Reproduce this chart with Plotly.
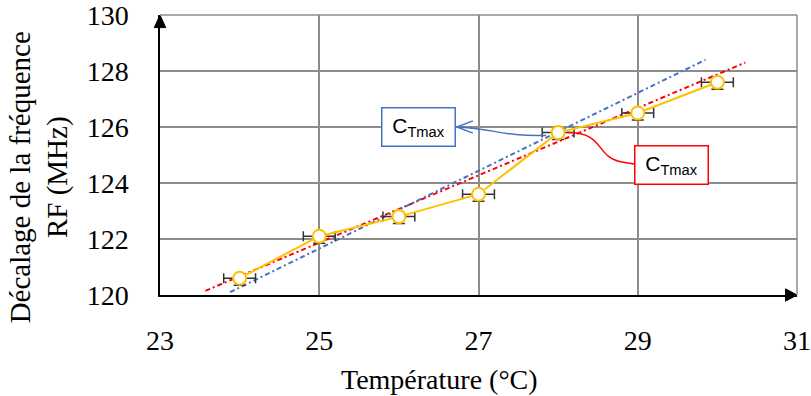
import plotly.graph_objects as go

temperature = [24, 25, 26, 27, 28, 29, 30]
rf_shift = [120.6, 122.1, 122.8, 123.6, 125.8, 126.5, 127.6]
temp_err = [0.2, 0.2, 0.2, 0.2, 0.2, 0.2, 0.2]
rf_err_minus = [0.25, 0.25, 0.25, 0.25, 0.25, 0.25, 0.25]
rf_err_plus = [0, 0, 0, 0, 0, 0, 0]

red_fit_x = [23.57, 30.35]
red_fit_y = [120.15, 128.3]
blue_fit_x = [23.88, 29.85]
blue_fit_y = [120.1, 128.4]

x_ticks = [23, 25, 27, 29, 31]
y_ticks = [120, 122, 124, 126, 128, 130]

ORANGE = "#FFC000"
RED = "#FF0000"
BLUE = "#4472C4"
GRID = "#8C8C8C"
SERIF = "Liberation Serif, Times New Roman, serif"
SANS = "Liberation Sans, Arial, sans-serif"

fig = go.Figure()

fig.add_trace(go.Scatter(
    x=red_fit_x, y=red_fit_y, mode="lines",
    line=dict(color=RED, width=2, dash="5px,3px,2px,3px"),
    hoverinfo="skip", showlegend=False))
fig.add_trace(go.Scatter(
    x=blue_fit_x, y=blue_fit_y, mode="lines",
    line=dict(color=BLUE, width=2, dash="5px,3px,2px,3px"),
    hoverinfo="skip", showlegend=False))

fig.add_trace(go.Scatter(
    x=temperature, y=rf_shift, mode="lines+markers",
    line=dict(color=ORANGE, width=2),
    marker=dict(symbol="circle", size=13, color="white",
                line=dict(color=ORANGE, width=2)),
    error_x=dict(type="data", array=temp_err, color="#333333",
                 thickness=1.5, width=5),
    error_y=dict(type="data", symmetric=False, array=rf_err_plus,
                 arrayminus=rf_err_minus, color="#333333",
                 thickness=1.5, width=6),
    showlegend=False))

shapes = []
shapes.append(dict(type="path", xref="x", yref="y",
                   path="M 27.85,125.7 C 27.3,125.65 27.2,125.95 26.73,126.0",
                   line=dict(color=BLUE, width=1.5)))
shapes.append(dict(type="path", xref="x", yref="y",
                   path="M 26.93,126.22 L 26.73,126.0 L 26.93,125.78",
                   line=dict(color=BLUE, width=1.5)))
shapes.append(dict(type="path", xref="x", yref="y",
                   path="M 28.12,125.8 C 28.6,125.8 28.45,124.95 28.8,124.75 C 29.0,124.63 29.1,124.68 29.2,124.68",
                   line=dict(color=RED, width=1.5)))
shapes.append(dict(type="path", xref="x", yref="y",
                   path="M 29.0,124.98 L 29.2,124.68 L 29.0,124.43",
                   line=dict(color=RED, width=1.5)))

shapes.append(dict(type="path", xref="paper", yref="paper",
                   path="M 0,1.0 L -0.009,0.955 L 0.009,0.955 Z",
                   fillcolor="black", line=dict(color="black", width=1)))
shapes.append(dict(type="path", xref="paper", yref="paper",
                   path="M 1.0,0 L 0.982,0.022 L 0.982,-0.022 Z",
                   fillcolor="black", line=dict(color="black", width=1)))
shapes.append(dict(type="line", xref="paper", yref="paper", x0=0, x1=1, y0=1, y1=1,
                   line=dict(color=GRID, width=1.5)))
shapes.append(dict(type="line", xref="paper", yref="paper", x0=1, x1=1, y0=0, y1=1,
                   line=dict(color=GRID, width=1.5)))

annotations = [
    dict(text="C<sub>Tmax</sub>", x=26.25, y=126.0, xref="x", yref="y",
         showarrow=False, font=dict(family=SANS, size=21, color="black"),
         bordercolor=BLUE, borderwidth=1.5, bgcolor="white",
         width=72, height=37, borderpad=0),
    dict(text="C<sub>Tmax</sub>", x=29.43, y=124.65, xref="x", yref="y",
         showarrow=False, font=dict(family=SANS, size=21, color="black"),
         bordercolor=RED, borderwidth=1.5, bgcolor="white",
         width=72, height=37, borderpad=0),
    dict(text="Décalage de la fréquence<br>RF (MHz)", textangle=-90,
         x=-0.19, y=0.42, xref="paper", yref="paper",
         xanchor="center", yanchor="middle", showarrow=False,
         font=dict(family=SERIF, size=29, color="black")),
    dict(text="Température (°C)", x=0.438, y=-0.30, xref="paper", yref="paper",
         xanchor="center", yanchor="middle", showarrow=False,
         font=dict(family=SERIF, size=28, color="black")),
]

fig.update_layout(
    width=811, height=396,
    margin=dict(l=160, r=14, t=15, b=101, autoexpand=False),
    paper_bgcolor="white", plot_bgcolor="white",
    shapes=shapes, annotations=annotations,
    xaxis=dict(range=[23, 31], tickvals=x_ticks, showgrid=True,
               gridcolor=GRID, gridwidth=1.5, zeroline=False,
               showline=True, linecolor="black", linewidth=1.5,
               ticks="outside", ticklen=0, ticklabelstandoff=20,
               automargin=False, ticklabeloverflow="allow",
               tickfont=dict(family=SERIF, size=28, color="black")),
    yaxis=dict(range=[120, 130], tickvals=y_ticks, showgrid=True,
               gridcolor=GRID, gridwidth=1.5, zeroline=False,
               showline=True, linecolor="black", linewidth=1.5,
               ticks="outside", ticklen=0, ticklabelstandoff=24,
               automargin=False, ticklabeloverflow="allow",
               tickfont=dict(family=SERIF, size=28, color="black")),
)

fig.write_html("out.html", config={"displayModeBar": False},
               post_script="document.body.style.margin='0';")
